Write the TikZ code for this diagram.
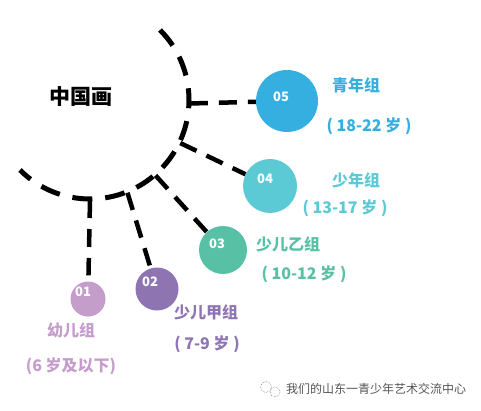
\documentclass[tikz,border=0pt]{standalone}
\usepackage{fontspec}
\setmainfont{Noto Sans CJK SC}
\usetikzlibrary{calc}
\definecolor{cfive}{HTML}{35AEE0}
\definecolor{cfour}{HTML}{5BCAD4}
\definecolor{cthree}{HTML}{58C0A4}
\definecolor{ctwo}{HTML}{8E75B2}
\definecolor{cone}{HTML}{C59DCB}
\definecolor{wm}{HTML}{555555}
\tikzset{
  arcline/.style={line width=5pt, dash pattern=on 20pt off 13pt},
  branch/.style={line width=4.5pt, dash pattern=on 18pt off 11pt},
  ball/.style={circle, inner sep=0pt, minimum size=#1},
  num/.style={text=white, font=\bfseries\fontsize{13}{13}\selectfont, inner sep=0pt},
  lab/.style={font=\bfseries\fontsize{16}{16}\selectfont, inner sep=0pt},
  age/.style={font=\bfseries\fontsize{16}{16}\selectfont, inner sep=0pt}
}
\begin{document}
\begin{tikzpicture}[x=1pt,y=-1pt]
\useasboundingbox (0,0) rectangle (481,411);
\coordinate (c) at (90,100);
\draw[arcline] ($(c)+(-45:99)$) arc[start angle=-45, end angle=135, radius=99];
% circles
\node[ball=62pt, fill=cfive] (n5) at (287,101) {};
\node[ball=54pt, fill=cfour] (n4) at (270,186) {};
\node[ball=48pt, fill=cthree] (n3) at (223,250) {};
\node[ball=43pt, fill=ctwo] (n2) at (157,289) {};
\node[ball=35pt, fill=cone] (n1) at (88,299) {};
% branch start points
\coordinate (b5) at ($(c)+(2:100)$);
\coordinate (b4) at ($(c)+(25.5:100)$);
\coordinate (b3) at ($(c)+(49:100)$);
\coordinate (b2) at ($(c)+(68:100)$);
\coordinate (b1) at ($(c)+(90:100)$);
\draw[branch] (b5) -- (n5);
\draw[branch] (b4) -- (n4);
\draw[branch] (b3) -- (n3);
\draw[branch, shorten >=2pt] (b2) -- (n2);
\draw[branch, shorten >=6pt] (b1) -- (n1);
% numbers
\node[num] (t5) at (281,97) {05};
\node[num] (t4) at (265,179) {04};
\node[num] (t3) at (217,244) {03};
\node[num] (t2) at (150,282) {02};
\node[num] (t1) at (83,292) {01};
% title
\node[font=\bfseries\fontsize{21}{21}\selectfont, inner sep=0pt] (title) at (81,97) {中国画};
% labels
\node[lab, text=cfive] (l5) at (356,85) {青年组};
\node[age, text=cfive] (a5) at (369,126) {( 18-22 岁 )};
\node[lab, text=cfour] (l4) at (356,180) {少年组};
\node[age, text=cfour] (a4) at (345,208) {( 13-17 岁 )};
\node[lab, text=cthree] (l3) at (288,244) {少儿乙组};
\node[age, text=cthree] (a3) at (304,274) {( 10-12 岁 )};
\node[lab, text=ctwo] (l2) at (206,312) {少儿甲组};
\node[age, text=ctwo] (a2) at (207,344) {( 7-9 岁 )};
\node[lab, text=cone] (l1) at (71,330) {幼儿组};
\node[age, text=cone] (a1) at (71,366) {(6 岁及以下)};
% watermark
\draw[wm!70, line width=0.6pt, densely dotted] (266,387) circle[radius=5.5];
\draw[wm!70, line width=0.6pt, densely dotted] (275,392) circle[radius=5];
\node[text=wm, font=\fontsize{12}{12}\selectfont, inner sep=0pt] (wmt) at (376,389) {我们的山东一青少年艺术交流中心};
\end{tikzpicture}
\end{document}
